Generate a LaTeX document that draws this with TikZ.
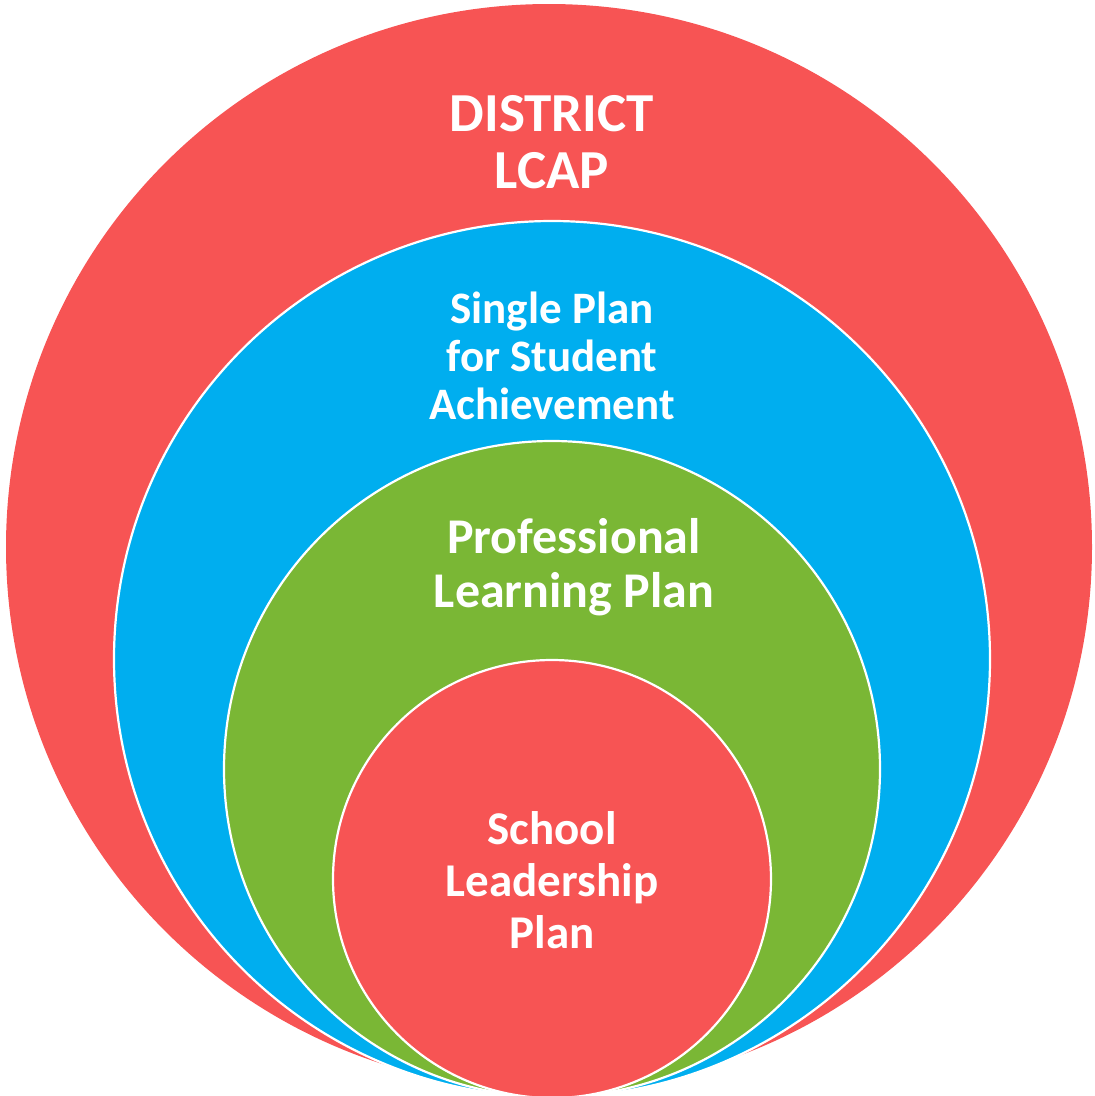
\documentclass[tikz,border=0pt]{standalone}
\usepackage{fontspec}
\setmainfont{Carlito}
\usepackage{tikz}
\usetikzlibrary{positioning}
\definecolor{lcapred}{RGB}{247,84,84}
\definecolor{planblue}{RGB}{0,174,239}
\definecolor{planrgreen}{RGB}{122,183,53}
\tikzstyle{ring} = [circle, inner sep=0pt, draw=white, line width=2.2pt]
\tikzstyle{label} = [text=white, align=center, font=\bfseries]

\begin{document}
\begin{tikzpicture}[x=1pt, y=-1pt]
\useasboundingbox (0,0) rectangle (1095,1096);
\node [circle, inner sep=0pt, fill=lcapred, minimum size=1086pt] (lcap) at (549,547) {};
\node [ring, fill=planblue, minimum size=876pt] (spsa) at (552,659) {};
\node [ring, fill=planrgreen, minimum size=656pt] (plp) at (552,769) {};
\node [ring, fill=lcapred, minimum size=438pt] (slp) at (552,879) {};

{\fontsize{55}{57}\selectfont
	\node [label] (lcaptext) at (552,142) {DISTRICT\\LCAP};
}
{\fontsize{45}{48}\selectfont
	\node [label] (spsatext) at (552,356) {Single Plan\\for Student\\Achievement};
}
{\fontsize{50}{54}\selectfont
	\node [label] (plptext) at (574,567) {Professional\\Learning Plan};
}
{\fontsize{47}{52}\selectfont
	\node [label] (slptext) at (552,880) {School\\Leadership\\Plan};
}
\end{tikzpicture}
\end{document}
